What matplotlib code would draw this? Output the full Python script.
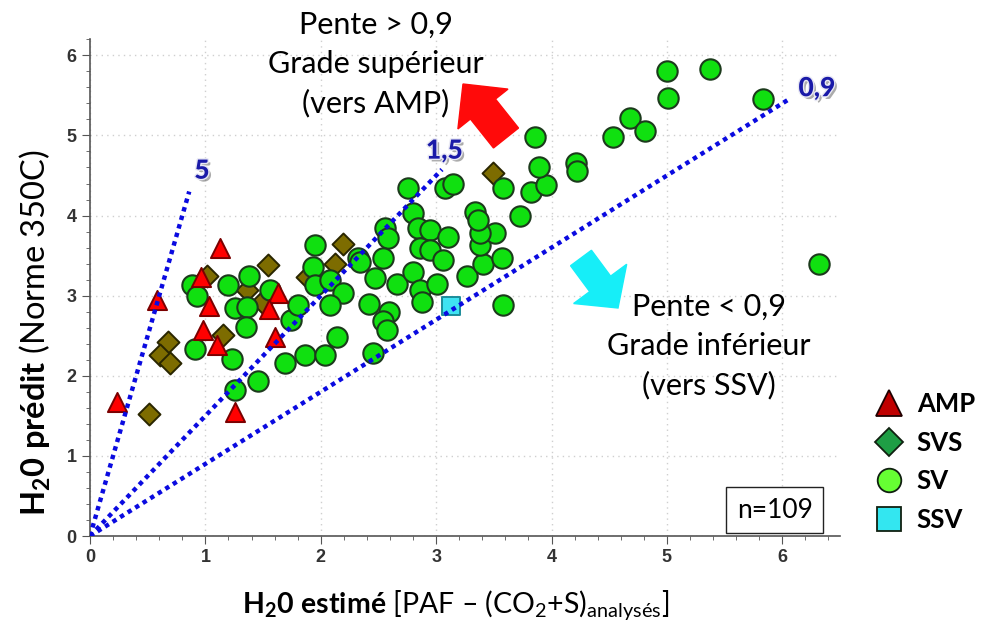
import matplotlib
matplotlib.use("Agg")
import matplotlib.pyplot as plt
import matplotlib.patheffects as pe
from matplotlib.lines import Line2D
from matplotlib.patches import FancyArrow
from matplotlib.ticker import MultipleLocator

plt.rcParams['font.family'] = ['Lato', 'DejaVu Sans']
plt.rcParams['mathtext.fontset'] = 'custom'
plt.rcParams['mathtext.rm'] = 'Lato'
plt.rcParams['mathtext.bf'] = 'Lato:bold'
plt.rcParams['mathtext.it'] = 'Lato:italic'

# data
amp_x = [1.13, 0.96, 0.58, 1.03, 1.63, 1.55, 0.98, 1.10, 1.60, 0.23, 1.26]
amp_y = [3.60, 3.23, 2.94, 2.87, 3.03, 2.83, 2.57, 2.39, 2.49, 1.67, 1.55]

svs_x = [1.54, 1.01, 1.36, 1.49, 0.68, 0.61, 0.69, 1.15, 0.51, 2.19, 2.12, 1.88, 3.49]
svs_y = [3.38, 3.25, 3.07, 2.92, 2.42, 2.26, 2.16, 2.51, 1.52, 3.65, 3.39, 3.23, 4.53]

sv_x = [0.88, 0.93, 1.20, 1.38, 1.26, 1.36, 1.35, 1.56, 1.74, 1.80,
        0.91, 1.23, 1.69, 1.26, 1.46, 1.95, 1.93, 1.95, 2.08, 2.19,
        2.08, 2.32, 2.34, 2.56, 2.58, 2.54, 2.47, 2.66, 2.42, 2.59,
        2.54, 2.57, 2.14, 2.45, 1.86, 2.04, 2.80, 2.84, 2.95, 2.80,
        2.86, 2.88, 2.86, 2.95, 3.01, 2.76, 3.08, 3.15, 3.10, 3.06,
        3.27, 3.41, 3.57, 3.38, 3.51, 3.38, 3.34, 3.36, 3.58, 3.82,
        3.95, 3.89, 3.86, 3.73, 3.58, 4.21, 4.22, 4.53, 4.68, 4.81,
        5.00, 5.01, 5.37, 5.83, 6.32]
sv_y = [3.13, 3.00, 3.13, 3.25, 2.84, 2.86, 2.61, 3.07, 2.70, 2.88,
        2.34, 2.21, 2.16, 1.82, 1.93, 3.63, 3.36, 3.13, 3.19, 3.03,
        2.88, 3.47, 3.42, 3.84, 3.72, 3.47, 3.22, 3.15, 2.90, 2.79,
        2.69, 2.57, 2.48, 2.29, 2.26, 2.26, 4.03, 3.85, 3.82, 3.29,
        3.07, 2.92, 3.60, 3.57, 3.15, 4.35, 4.35, 4.40, 3.73, 3.44,
        3.25, 3.40, 3.47, 3.63, 3.78, 3.78, 4.05, 3.95, 4.35, 4.29,
        4.38, 4.60, 4.98, 4.00, 2.88, 4.66, 4.56, 4.98, 5.22, 5.06,
        5.81, 5.47, 5.83, 5.46, 3.40]

ssv_x = [3.13]
ssv_y = [2.87]

slopes = [5, 1.5, 0.9]
slope_x_end = [0.86, 3.05, 6.05]
slope_labels = ['5', '1,5', '0,9']

fig = plt.figure(figsize=(10, 6.24), dpi=100)
ax = fig.add_axes([0.09, 0.141, 0.75, 0.796])

ax.scatter(svs_x, svs_y, marker='D', s=125, c='#7d6c00', edgecolors='#2a2600', linewidths=1.4, zorder=3)
ax.scatter(sv_x, sv_y, marker='o', s=215, c='#10e010', edgecolors='#1c3a1c', linewidths=1.5, zorder=4)
ax.scatter(amp_x, amp_y, marker='^', s=190, c='#ff0000', edgecolors='#7a0000', linewidths=1.4, zorder=5)
ax.scatter(ssv_x, ssv_y, marker='s', s=170, c='#3fe3f2', edgecolors='#1b8c9a', linewidths=1.4, zorder=5)

# lines of constant slope
for k, xe in zip(slopes, slope_x_end):
    ax.plot([0, xe], [0, k * xe], color='#0a0ae0', lw=3.2, linestyle=(0, (1, 1)),
            dash_capstyle='butt', zorder=6)
txt_pos = [(0.97, 4.56), (3.07, 4.81), (6.30, 5.59)]
for (tx, ty), lab in zip(txt_pos, slope_labels):
    ax.text(tx, ty, lab, color='#1a1aa8', fontsize=19, fontweight=900, ha='center', va='center',
            zorder=7, path_effects=[pe.SimplePatchShadow(offset=(2, -2), shadow_rgbFace='#666666', alpha=0.55),
                                    pe.Stroke(linewidth=2, foreground='#e8e8f4'), pe.Normal()])

ax.set_xlim(0, 6.5)
ax.set_ylim(0, 6.2)
ax.xaxis.set_major_locator(MultipleLocator(1))
ax.yaxis.set_major_locator(MultipleLocator(1))
ax.xaxis.set_minor_locator(MultipleLocator(0.2))
ax.yaxis.set_minor_locator(MultipleLocator(0.2))
ax.grid(True, which='major', color='#cfcfcf', linestyle=(0, (1, 3)), lw=1)
ax.set_axisbelow(True)
for s in ['top', 'right']:
    ax.spines[s].set_visible(False)
for s in ['left', 'bottom']:
    ax.spines[s].set_color('#555555')
    ax.spines[s].set_linewidth(1.2)
ax.tick_params(which='major', length=6, color='#555555', labelcolor='#333333')
ax.tick_params(which='minor', length=3, color='#555555')
for lb in ax.get_xticklabels() + ax.get_yticklabels():
    lb.set_fontfamily('Liberation Sans')
    lb.set_fontweight('bold')
    lb.set_fontsize(13)

ax.set_ylabel(r'$\mathbf{H_20\ prédit}$ (Norme 350C)', fontsize=23.5)
ax.set_xlabel(r'$\mathbf{H_20\ estimé}$ [PAF – (CO$_2$+S)$_{\mathrm{analysés}}$]', fontsize=20.5)
ax.yaxis.set_label_coords(-0.049, 0.41)
ax.xaxis.set_label_coords(0.488, -0.105)

# annotations
fig.text(0.376, 0.897, 'Pente > 0,9\nGrade supérieur\n(vers AMP)', ha='center', va='center',
         fontsize=22, linespacing=1.47)
fig.text(0.709, 0.445, 'Pente < 0,9\nGrade inférieur\n(vers SSV)', ha='center', va='center',
         fontsize=22, linespacing=1.47)

fig.patches.append(FancyArrow(5.06, 4.86, -0.43, 0.54, width=0.32, head_width=0.64, head_length=0.32,
                              length_includes_head=True, color='#ff0a0a', transform=fig.dpi_scale_trans))
fig.patches.append(FancyArrow(5.81, 3.66, 0.37, -0.50, width=0.26, head_width=0.66, head_length=0.30,
                              length_includes_head=True, color='#16eef8', transform=fig.dpi_scale_trans))

ax.text(0.913, 0.052, 'n=109', transform=ax.transAxes, ha='center', va='center', fontsize=19,
        bbox=dict(boxstyle='square,pad=0.4', fc='white', ec='#222222', lw=1))

handles = [
    Line2D([], [], marker='^', ls='', markersize=19, mfc='#c00000', mec='#200000', mew=1.3),
    Line2D([], [], marker='D', ls='', markersize=14, mfc='#1f9e45', mec='#102010', mew=1.3),
    Line2D([], [], marker='o', ls='', markersize=17, mfc='#66ff33', mec='#102010', mew=1.3),
    Line2D([], [], marker='s', ls='', markersize=17, mfc='#33e6f0', mec='#102010', mew=1.3),
]
leg = fig.legend(handles, ['AMP', 'SVS', 'SV', 'SSV'], loc='upper left', bbox_to_anchor=(0.868, 0.38),
                 frameon=False, prop={'weight': 'bold', 'size': 18.5}, labelspacing=0.57,
                 handlelength=1.2, handletextpad=0.5, borderaxespad=0, borderpad=0.2)

fig.savefig('out.png', dpi=100)
